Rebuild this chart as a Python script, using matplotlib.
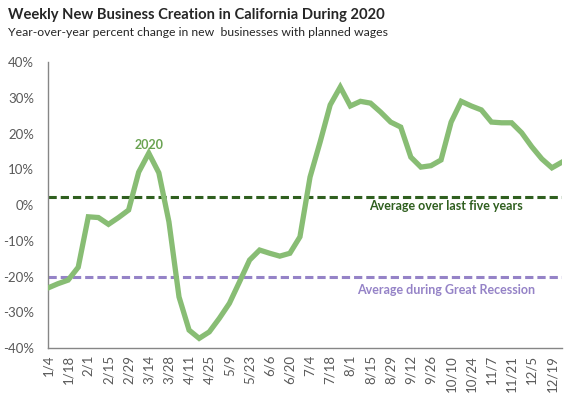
import matplotlib.pyplot as plt
import numpy as np

# weekly dates (week ending) and YoY change in new businesses, %
weeks = ['1/4', '1/11', '1/18', '1/25', '2/1', '2/8', '2/15', '2/22', '2/29', '3/7',
         '3/14', '3/21', '3/28', '4/4', '4/11', '4/18', '4/25', '5/2', '5/9', '5/16',
         '5/23', '5/30', '6/6', '6/13', '6/20', '6/27', '7/4', '7/11', '7/18', '7/25',
         '8/1', '8/8', '8/15', '8/22', '8/29', '9/5', '9/12', '9/19', '9/26', '10/3',
         '10/10', '10/17', '10/24', '10/31', '11/7', '11/14', '11/21', '11/28', '12/5',
         '12/12', '12/19', '12/26']
yoy_2020 = [-23.2, -22.0, -21.0, -17.4, -3.3, -3.5, -5.4, -3.5, -1.4, 9.2,
            14.5, 9.0, -4.7, -25.7, -35.0, -37.3, -35.5, -31.7, -27.5, -21.5,
            -15.4, -12.6, -13.5, -14.3, -13.5, -8.9, 7.8, 17.6, 28.0, 33.0,
            27.7, 29.0, 28.5, 26.0, 23.2, 21.8, 13.4, 10.6, 11.0, 12.6,
            23.2, 29.0, 27.7, 26.6, 23.2, 23.0, 23.0, 20.2, 16.3, 12.9,
            10.4, 12.0]
avg_five_years = 2.3
avg_recession = -20.0

plt.rcParams['font.family'] = ['Lato', 'DejaVu Sans']

fig = plt.figure(figsize=(5.72, 3.97), dpi=100)
ax = fig.add_axes([0.0839, 0.1234, 0.8986, 0.7204])

x = np.arange(len(weeks))
ax.plot(x, yoy_2020, color='#88bd74', lw=3.8, solid_joinstyle='miter', zorder=3)
ax.axhline(avg_five_years, color='#2f5f1f', lw=2.2, ls=(0, (2.7, 1.3)), zorder=2)
ax.axhline(avg_recession, color='#9583c7', lw=2.2, ls=(0, (2.7, 1.3)), zorder=2)

ax.text(10, 16.8, '2020', color='#6aa352', fontsize=9, fontweight='bold', ha='center', va='center')
ax.text(39.5, -0.3, 'Average over last five years', color='#2f5f1f', fontsize=9,
        fontweight='bold', ha='center', va='center')
ax.text(39.5, -23.7, 'Average during Great Recession', color='#9583c7', fontsize=9,
        fontweight='bold', ha='center', va='center')

ax.set_xlim(0, len(weeks) - 1)
ax.set_ylim(-40, 40)
ax.set_yticks(np.arange(-40, 41, 10))
ax.set_yticklabels([f'{v}%' for v in range(-40, 41, 10)])
ax.set_xticks(x[::2])
ax.set_xticklabels(weeks[::2], rotation=90)
ax.tick_params(axis='both', length=0, labelsize=9.5, colors='#595959')
ax.tick_params(axis='y', pad=10)
ax.tick_params(axis='x', pad=5)

for s in ['top', 'right']:
    ax.spines[s].set_visible(False)
for s in ['left', 'bottom']:
    ax.spines[s].set_color('#868686')
    ax.spines[s].set_linewidth(1)

fig.text(0.014, 0.962, 'Weekly New Business Creation in California During 2020',
         fontsize=10.6, fontweight='bold', color='#262626', va='center')
fig.text(0.014, 0.918, 'Year-over-year percent change in new  businesses with planned wages',
         fontsize=8.8, color='#262626', va='center')

fig.savefig('out.png', dpi=100)
